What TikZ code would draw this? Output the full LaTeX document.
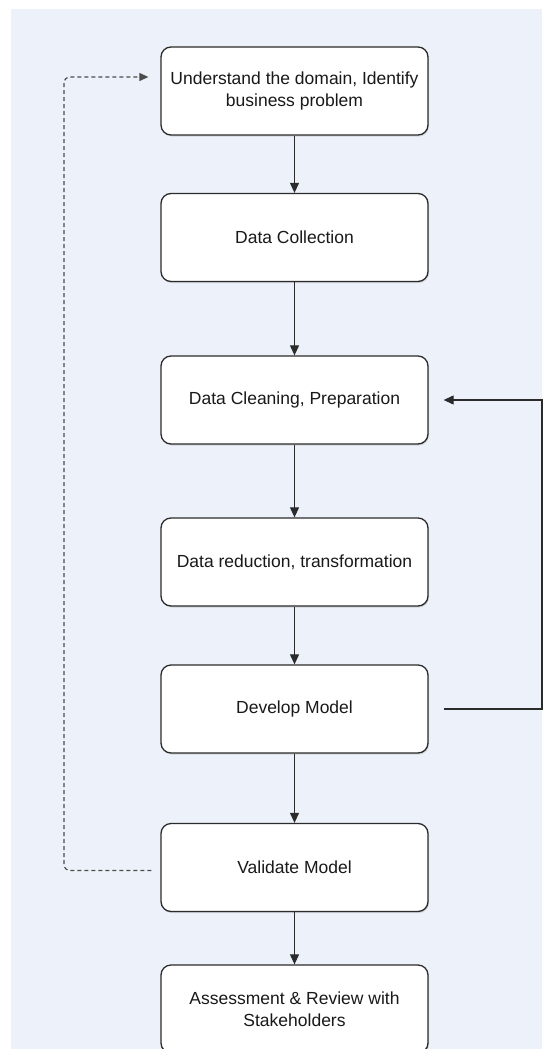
\documentclass[tikz,border=0pt]{standalone}
\usepackage{fontspec}
\setmainfont{Liberation Sans}
\usetikzlibrary{arrows.meta,positioning,shadows,backgrounds}
\definecolor{panelbg}{HTML}{EDF1F9}
\definecolor{linegray}{HTML}{2B2B2B}
\tikzset{
  stagebox/.style={rectangle,rounded corners=10pt,minimum width=267pt,minimum height=88pt,
    draw=linegray,fill=white,text=black!90,font=\fontsize{17.5}{21.5}\selectfont,
    drop shadow={shadow xshift=1pt,shadow yshift=-1.5pt,opacity=0.25},
    align=center,line width=1.3pt},
  myarrow/.style={-{Triangle[length=10pt,width=9pt]},line width=1.1pt,linegray},
  loopline/.style={-{Triangle[length=9pt,width=8pt]},line width=1.2pt,dashed,
    dash pattern=on 4pt off 3pt,black!70,rounded corners=6pt},
}
\begin{document}
\begin{tikzpicture}[x=1pt,y=-1pt]
  \useasboundingbox (0,0) rectangle (542,1049);
  \fill[white] (0,0) rectangle (542,1049);
  \fill[panelbg] (11,9) rectangle (542,1049);
  \node[stagebox] (understand) at (294.5,91) {Understand the domain, Identify\\business problem};
  \node[stagebox] (collect) at (294.5,237.5) {Data Collection};
  \node[stagebox] (clean) at (294.5,400) {Data Cleaning, Preparation};
  \node[stagebox] (reduce) at (294.5,562) {Data reduction, transformation};
  \node[stagebox] (develop) at (294.5,709) {Develop Model};
  \node[stagebox] (validate) at (294.5,867.5) {Validate Model};
  \node[stagebox] (assess) at (294.5,1009) {Assessment \& Review with\\Stakeholders};
  \draw[myarrow] (understand) -- (collect);
  \draw[myarrow] (collect) -- (clean);
  \draw[myarrow] (clean) -- (reduce);
  \draw[myarrow] (reduce) -- (develop);
  \draw[myarrow] (develop) -- (validate);
  \draw[myarrow] (validate) -- (assess);
  % feedback loops
  \draw[myarrow] ([xshift=15pt]develop.east) -- (542,709) |- ([xshift=15pt]clean.east);
  \draw[loopline] ([xshift=-9pt,yshift=-3pt]validate.west) -| (64,77) -- ([xshift=-12pt,yshift=14pt]understand.west);
\end{tikzpicture}
\end{document}
